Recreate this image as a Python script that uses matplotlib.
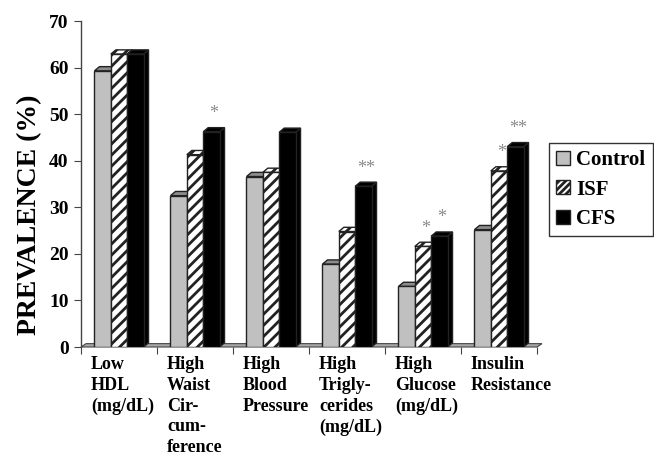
import matplotlib
matplotlib.use("Agg")
import matplotlib.pyplot as plt
import numpy as np
from matplotlib.patches import Patch

plt.rcParams['font.family'] = ['Liberation Serif', 'DejaVu Serif']
plt.rcParams['font.weight'] = 'bold'
plt.rcParams['hatch.linewidth'] = 2.0

categories = ["Low\nHDL\n(mg/dL)", "High\nWaist\nCir-\ncum-\nference", "High\nBlood\nPressure",
              "High\nTrigly-\ncerides\n(mg/dL)", "High\nGlucose\n(mg/dL)", "Insulin\nResistance"]
groups = ["Control", "ISF", "CFS"]
control = [59.3, 32.5, 36.6, 17.8, 13.0, 25.2]
isf = [62.9, 41.3, 37.5, 24.8, 21.6, 37.8]
cfs = [62.9, 46.2, 46.1, 34.5, 23.8, 43.0]
# significance marks over the bars
sig_isf = ["", "", "", "", "*", "*"]
sig_cfs = ["", "*", "", "**", "*", "**"]

fig = plt.figure(figsize=(6.54, 4.58), dpi=100)
ax = fig.add_axes([81/654, 111/458, (537-81)/654, (347-21)/458])

x = np.arange(len(categories))
w = 0.215
dx, dy = 0.066, 0.9   # depth of the fake 3d effect

# floor
ax.fill([-0.5, 5.5, 5.5 + dx, -0.5 + dx], [0, 0, dy * 0.8, dy * 0.8], facecolor="#a8a8a8",
        edgecolor="#444444", lw=0.8, zorder=1, clip_on=False)

styles = [
    dict(face="#c0c0c0", top="#8c8c8c", side="#a0a0a0", hatch=None),
    dict(face="white", top="white", side="white", hatch="///"),
    dict(face="black", top="black", side="black", hatch=None),
]
series = [control, isf, cfs]
for k, (vals, st) in enumerate(zip(series, styles)):
    xs = x + (k - 1) * w
    z = 2 + k
    ax.bar(xs, vals, width=w, color=st["face"], hatch=st["hatch"], edgecolor="#222222",
           lw=1.0, zorder=z + 0.5)
    for xc, v in zip(xs, vals):
        l, r = xc - w / 2, xc + w / 2
        ax.fill([r, r + dx, r + dx, r], [0, dy, v + dy, v], facecolor=st["side"],
                hatch=st["hatch"], edgecolor="#222222", lw=1.0, zorder=z)
        ax.fill([l, l + dx, r + dx, r], [v, v + dy, v + dy, v], facecolor=st["top"],
                hatch=st["hatch"], edgecolor="#222222", lw=1.0, zorder=z)

for k, (vals, sigs) in enumerate([(isf, sig_isf), (cfs, sig_cfs)]):
    xs = x + k * w
    for xc, v, s in zip(xs, vals, sigs):
        if s:
            ax.text(xc + dx / 2, v + dy + 3.0, s, ha="center", va="center",
                    fontsize=13, fontweight="normal", color="#8a8a8a", zorder=10)

ax.set_xlim(-0.5, 5.5)
ax.set_ylim(0, 70)
ax.set_yticks(range(0, 71, 10))
ax.set_xticks(np.arange(-0.5, 6, 1))
ax.set_xticklabels([])
ax.tick_params(axis="y", labelsize=14, length=5, color="#444444", pad=4)
ax.tick_params(axis="x", length=5, color="#444444", direction="out")
for lab in ax.get_yticklabels():
    lab.set_fontweight("bold")
for s in ["top", "right", "bottom"]:
    ax.spines[s].set_visible(False)
ax.spines["left"].set_color("#444444")
ax.spines["left"].set_linewidth(1.0)

for i, c in enumerate(categories):
    ax.text(i - 0.37, -2.0, c, ha="left", va="top", fontsize=13, fontweight="bold",
            linespacing=1.28, clip_on=False)

ax.set_ylabel("PREVALENCE (%)", fontsize=20, fontweight="bold")
ax.yaxis.set_label_coords(-0.085, 0.405)

handles = [Patch(facecolor="#c0c0c0", edgecolor="#222222"),
           Patch(facecolor="white", edgecolor="#222222", hatch="/////"),
           Patch(facecolor="black", edgecolor="#222222")]
leg = fig.legend(handles, groups, loc="upper left", bbox_to_anchor=(549/654, 1 - 143/458),
                 bbox_transform=fig.transFigure, fancybox=False, edgecolor="#333333",
                 framealpha=1, prop=dict(size=15, weight="bold"), handlelength=0.65,
                 handleheight=0.65, handletextpad=0.3, labelspacing=0.45, borderpad=0.35,
                 borderaxespad=0)
leg.get_frame().set_linewidth(1.0)

fig.savefig("out.png", dpi=100)
